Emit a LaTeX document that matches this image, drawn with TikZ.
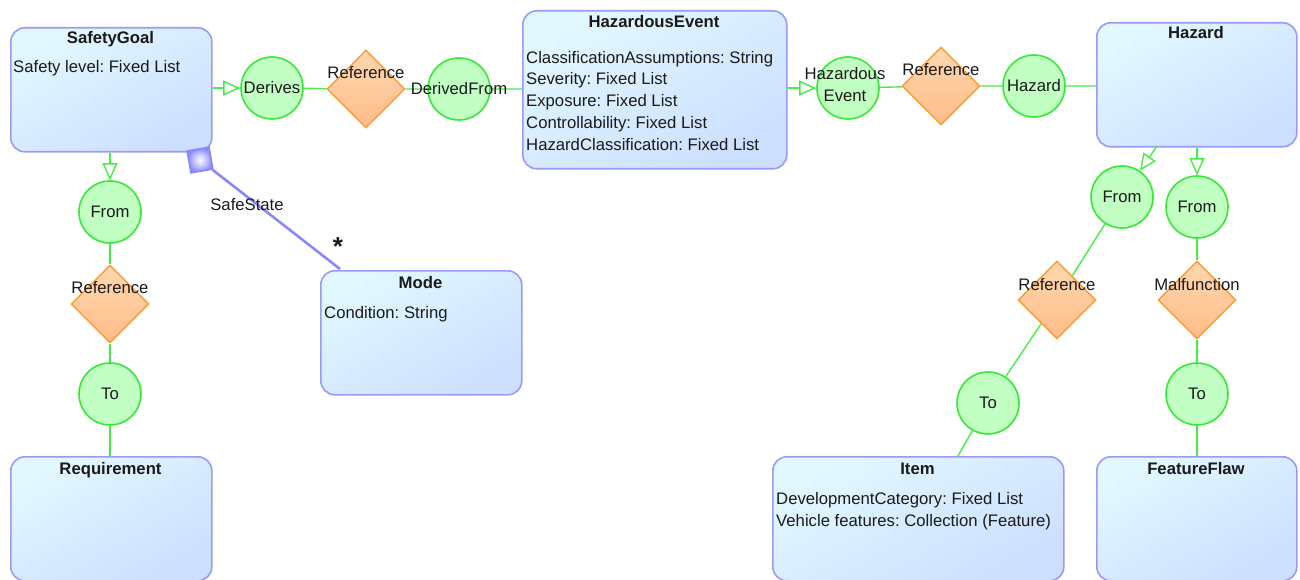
\documentclass[tikz,border=0pt]{standalone}
\usepackage{fontspec}
\setmainfont{Liberation Sans}
\frenchspacing
\usetikzlibrary{shapes.geometric,arrows.meta}
\definecolor{boxtop}{HTML}{E2F8FF}
\definecolor{boxbot}{HTML}{CCDFFF}
\definecolor{boxedge}{HTML}{9A9AF8}
\definecolor{circfill}{HTML}{C2FFC2}
\definecolor{circedge}{HTML}{38E838}
\definecolor{glinec}{HTML}{44EE44}
\definecolor{diatop}{HTML}{FFD8B0}
\definecolor{diabot}{HTML}{FFBC88}
\definecolor{diaedge}{HTML}{FF9A33}
\definecolor{bline}{HTML}{8888FA}
\definecolor{txtc}{HTML}{1A1A1A}
\begin{document}
\begin{tikzpicture}[x=1pt,y=-1pt,
  font=\fontsize{16.7pt}{22pt}\selectfont, text=txtc,
  umlbox/.style={draw=boxedge, line width=1.6pt, rounded corners=14pt,
    top color=boxtop, bottom color=boxbot, shading angle=30, inner sep=0pt, anchor=north west},
  ttl/.style={font=\fontsize{16.7pt}{22pt}\selectfont\bfseries, anchor=base, inner sep=0pt},
  attr/.style={anchor=base west, inner sep=0pt},
  conn/.style={circle, draw=circedge, fill=circfill, line width=1.6pt, minimum size=62pt, inner sep=0pt},
  rel/.style={diamond, draw=diaedge, line width=1.4pt, top color=diatop, bottom color=diabot,
    minimum width=78pt, minimum height=78pt, inner sep=0pt, aspect=1},
  lbl/.style={inner sep=0pt},
  gline/.style={draw=glinec, line width=1.4pt},
  garrow/.style={gline, -{Triangle[open, length=17pt, width=15pt, line width=1.4pt]}},
  bluel/.style={draw=bline, line width=2.6pt}
]
\useasboundingbox (0,0) rectangle (1300,580);

% ---------- class boxes ----------
\node[umlbox, minimum width=201pt, minimum height=124pt] (sg) at (10,27) {};
\node[ttl] (sgT) at (110.5,44) {SafetyGoal};
\node[attr] (sgA1) at (13,73) {Safety level: Fixed List};

\node[umlbox, minimum width=264pt, minimum height=158pt] (he) at (522,10) {};
\node[ttl] (heT) at (654,28) {HazardousEvent};
\node[attr] (heA1) at (526,64) {ClassificationAssumptions: String};
\node[attr] (heA2) at (526,85) {Severity: Fixed List};
\node[attr] (heA3) at (526,107) {Exposure: Fixed List};
\node[attr] (heA4) at (526,129) {Controllability: Fixed List};
\node[attr] (heA5) at (526,151) {HazardClassification: Fixed List};

\node[umlbox, minimum width=200pt, minimum height=124pt] (hz) at (1096,22) {};
\node[ttl] (hzT) at (1196,39) {Hazard};

\node[umlbox, minimum width=201pt, minimum height=124pt] (mode) at (320,270) {};
\node[ttl] (modeT) at (420.5,288) {Mode};
\node[attr] (modeA1) at (324,318) {Condition: String};

\node[umlbox, minimum width=201pt, minimum height=124pt] (req) at (10,456) {};
\node[ttl] (reqT) at (110.5,474) {Requirement};

\node[umlbox, minimum width=291pt, minimum height=124pt] (item) at (772,456) {};
\node[ttl] (itemT) at (917.5,474) {Item};
\node[attr] (itemA1) at (776,504) {DevelopmentCategory: Fixed List};
\node[attr] (itemA2) at (776,526) {Vehicle features: Collection (Feature)};

\node[umlbox, minimum width=200pt, minimum height=124pt] (ff) at (1096,456) {};
\node[ttl] (ffT) at (1196,474) {FeatureFlaw};

% ---------- connector nodes ----------
\node[conn] (der) at (272,88) {};
\node[rel] (rd1) at (366,89) {};
\node[conn] (dfrom) at (459,89) {};

\node[conn] (hec) at (848,88) {};
\node[rel] (rd2) at (941,86) {};
\node[conn] (hzc) at (1034,86) {};

\node[conn] (fr1) at (110,212) {};
\node[rel] (rd3) at (110,304) {};
\node[conn] (to1) at (110,394) {};

\node[conn] (fr2) at (1122,197) {};
\node[rel] (rd4) at (1057,300) {};
\node[conn] (to2) at (988,403) {};

\node[conn] (fr3) at (1197,207) {};
\node[rel] (rd5) at (1197,300) {};
\node[conn] (to3) at (1197,394) {};

\coordinate (hzA) at (1157,146);
\coordinate (itemTop) at (958,456);
\coordinate (modeTL) at (340,269);

% ---------- connectors ----------
\draw[garrow] (sg.east |- der) -- (der);
\draw[gline] (der) -- (rd1) -- (dfrom) -- (he.west |- dfrom);
\draw[garrow] (he.east |- hec) -- (hec);
\draw[gline] (hec) -- (rd2) -- (hzc) -- (hz.west |- hzc);

\draw[garrow] (sg.south -| fr1) -- (fr1);
\draw[gline] (fr1) -- (rd3) -- (to1) -- (req.north -| to1);

\draw[garrow] (hzA) -- (fr2);
\draw[gline] (fr2) -- (rd4) -- (to2) -- (itemTop);

\draw[garrow] (hz.south -| fr3) -- (fr3);
\draw[gline] (fr3) -- (rd5) -- (to3) -- (ff.north -| to3);

% composition-like link SafetyGoal -> Mode
\node[draw=bline, line width=1.8pt, inner color=white, outer color=bline,
      minimum size=22pt, inner sep=0pt, rotate=10] (sq) at (200,160) {};
\draw[bluel] (sq) -- (modeTL);
\node[lbl] (ssT) at (247,205) {SafeState};
\node[lbl, font=\fontsize{26pt}{26pt}\selectfont\bfseries] (star) at (338,247) {*};

% ---------- labels ----------
\node[lbl] (derT) at (der) {Derives};
\node[lbl] (rd1T) at (366,73) {Reference};
\node[lbl] (dfromT) at (dfrom) {DerivedFrom};
\node[lbl, align=center] (hecT) at (845,84.5) {Hazardous\\Event};
\node[lbl] (rd2T) at (941,70) {Reference};
\node[lbl] (hzcT) at (hzc) {Hazard};
\node[lbl] (fr1T) at (fr1) {From};
\node[lbl] (rd3T) at (110,288) {Reference};
\node[lbl] (to1T) at (to1) {To};
\node[lbl] (fr2T) at (fr2) {From};
\node[lbl] (rd4T) at (1057,285) {Reference};
\node[lbl] (to2T) at (to2) {To};
\node[lbl] (fr3T) at (fr3) {From};
\node[lbl] (rd5T) at (1197,285) {Malfunction};
\node[lbl] (to3T) at (to3) {To};
\end{tikzpicture}
\end{document}
